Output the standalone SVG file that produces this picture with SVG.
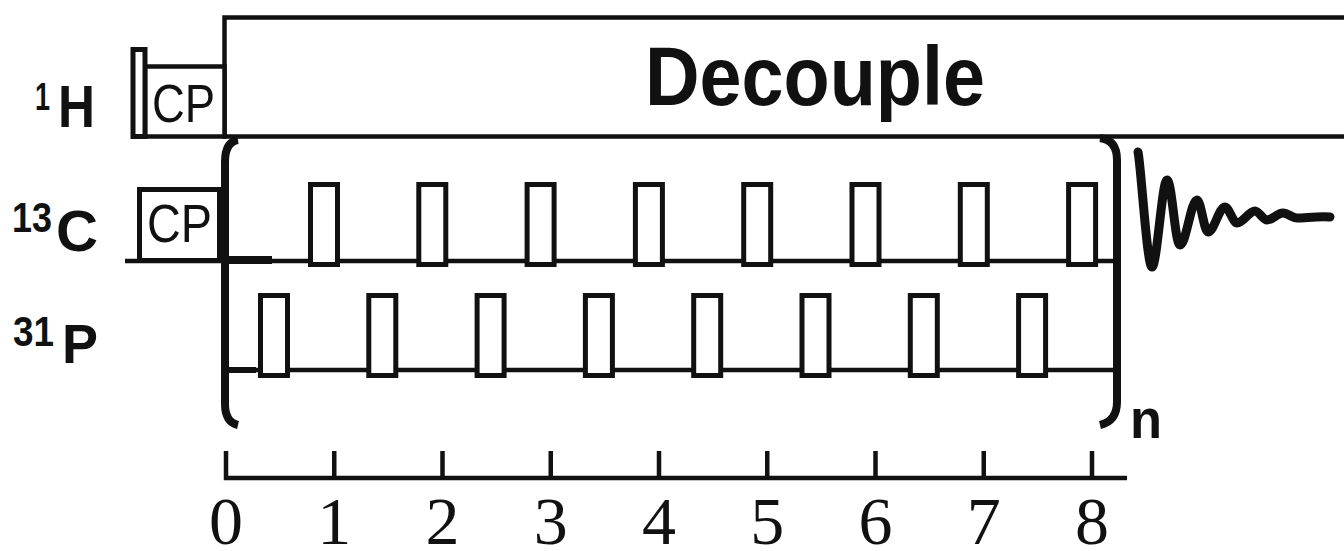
<svg xmlns="http://www.w3.org/2000/svg" width="1344" height="551" viewBox="0 0 1344 551">
  <style>
    .ln { fill: none; stroke: #111; stroke-linecap: butt; stroke-linejoin: miter; }
    .pulse { fill: #fff; stroke: #111; stroke-width: 5; }
    .box { fill: #fff; stroke: #111; stroke-width: 4.5; }
    .nuc { font-family: "Liberation Sans", Arial, sans-serif; font-weight: bold; fill: #111; }
    .cp { font-family: "Liberation Sans", Arial, sans-serif; fill: #111; }
    .num { font-family: "Liberation Serif", "Times New Roman", serif; fill: #111; font-size: 68px; text-anchor: middle; }
  </style>
  <defs>
    <rect id="pw" class="pulse" x="0" y="0" width="27" height="80"/>
  </defs>
  <rect width="1344" height="551" fill="#fff"/>

  <!-- nucleus labels -->
  <g id="label-1H">
    <text class="nuc" x="35" y="110" font-size="38" textLength="15" lengthAdjust="spacingAndGlyphs">1</text>
    <text class="nuc" x="58" y="127" font-size="59" textLength="37" lengthAdjust="spacingAndGlyphs">H</text>
  </g>
  <g id="label-13C">
    <text class="nuc" x="12" y="232" font-size="43" textLength="40" lengthAdjust="spacingAndGlyphs">13</text>
    <text class="nuc" x="56" y="251" font-size="58" textLength="42" lengthAdjust="spacingAndGlyphs">C</text>
  </g>
  <g id="label-31P">
    <text class="nuc" x="13" y="346" font-size="42" textLength="41" lengthAdjust="spacingAndGlyphs">31</text>
    <text class="nuc" x="62" y="363" font-size="56" textLength="36" lengthAdjust="spacingAndGlyphs">P</text>
  </g>

  <!-- 1H channel: 90 degree pulse, CP contact, decoupling -->
  <g id="h1-channel">
    <rect class="box" x="224.5" y="17.5" width="1130" height="119" stroke-width="4"/>
    <text class="nuc" x="645" y="105" font-size="84" textLength="340" lengthAdjust="spacingAndGlyphs">Decouple</text>
    <rect class="box" x="145" y="66.5" width="79.5" height="70"/>
    <text class="cp" x="152" y="122" font-size="54" textLength="63" lengthAdjust="spacingAndGlyphs">CP</text>
    <rect class="pulse" x="133" y="49.5" width="12" height="87" stroke-width="6"/>
  </g>

  <!-- 13C channel: CP contact and rotor-synchronised pi pulses -->
  <g id="c13-channel">
    <path class="ln" d="M125 261 H1113" stroke-width="4.5"/>
    <path class="ln" d="M225 260 H272" stroke-width="8"/>
    <rect class="pulse" x="139.5" y="189.5" width="80" height="71"/>
    <text class="cp" x="147" y="242" font-size="54" textLength="65" lengthAdjust="spacingAndGlyphs">CP</text>
    <use href="#pw" x="310.5" y="184.5"/>
    <use href="#pw" x="418.8" y="184.5"/>
    <use href="#pw" x="527.1" y="184.5"/>
    <use href="#pw" x="635.4" y="184.5"/>
    <use href="#pw" x="743.7" y="184.5"/>
    <use href="#pw" x="852" y="184.5"/>
    <use href="#pw" x="960.3" y="184.5"/>
    <use href="#pw" x="1068.6" y="184.5"/>
  </g>

  <!-- 31P channel: interleaved pi pulses -->
  <g id="p31-channel">
    <path class="ln" d="M225 370 H1113" stroke-width="4.5"/>
    <path class="ln" d="M225 370 H256" stroke-width="6"/>
    <use href="#pw" x="260.5" y="295.5"/>
    <use href="#pw" x="368.8" y="295.5"/>
    <use href="#pw" x="477.1" y="295.5"/>
    <use href="#pw" x="585.4" y="295.5"/>
    <use href="#pw" x="693.7" y="295.5"/>
    <use href="#pw" x="802" y="295.5"/>
    <use href="#pw" x="910.3" y="295.5"/>
    <use href="#pw" x="1018.6" y="295.5"/>
  </g>

  <!-- repetition bracket -->
  <g id="loop-bracket">
    <path class="ln" d="M238 140 Q225 142 225 162 L225 404 Q225 422 238 425" stroke-width="8"/>
    <path class="ln" d="M1100 138 Q1117 140 1117 160 L1117 402 Q1117 421 1100 425" stroke-width="8"/>
    <text class="nuc" x="1130" y="438" font-size="56" textLength="32" lengthAdjust="spacingAndGlyphs">n</text>
  </g>

  <!-- free induction decay -->
  <g id="fid">
    <path d="M1138 152 C1141 165 1147 267 1152 267 C1157 267 1162 180 1167 180 C1172 180 1175 245 1180 245 C1186 245 1191 200 1197 200 C1201 200 1204 232 1208 232 C1214 232 1219 207 1225 207 C1229 207 1233 223 1237 223 C1243 223 1249 211 1255 211 C1259 211 1263 220 1267 220 C1273 220 1277 213 1283 213 C1288 213 1292 218 1297 218 C1306 218 1318 216 1330 217" fill="none" stroke="#111" stroke-width="9" stroke-linecap="round" stroke-linejoin="round"/>
  </g>

  <!-- rotor period axis -->
  <g id="time-axis">
    <path class="ln" d="M226 451 V478 H1127" stroke-width="4.5"/>
    <path class="ln" stroke-width="4.5" d="M334.25 451 V478 M442.5 451 V478 M550.75 451 V478 M659 451 V478 M767.25 451 V478 M875.5 451 V478 M983.75 451 V478 M1092 451 V478"/>
    <text class="num" x="226" y="544">0</text>
    <text class="num" x="334.25" y="544">1</text>
    <text class="num" x="442.5" y="544">2</text>
    <text class="num" x="550.75" y="544">3</text>
    <text class="num" x="659" y="544">4</text>
    <text class="num" x="767.25" y="544">5</text>
    <text class="num" x="875.5" y="544">6</text>
    <text class="num" x="983.75" y="544">7</text>
    <text class="num" x="1092" y="544">8</text>
  </g>
</svg>
